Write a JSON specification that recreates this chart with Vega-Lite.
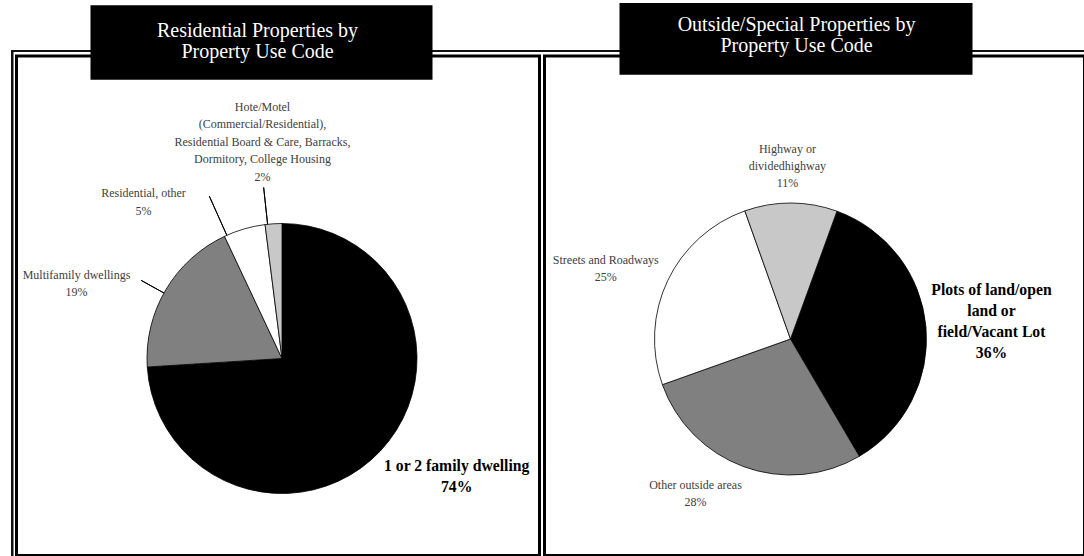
{
  "$schema": "https://vega.github.io/schema/vega-lite/v6.json",
  "background": "white",
  "padding": {"left": 8.5, "top": 1, "right": 0, "bottom": 0},
  "spacing": 5,
  "bounds": "flush",
  "config": {"font": "Liberation Serif", "view": {"stroke": "black", "strokeWidth": 3, "fill": "white"}},
  "hconcat": [
    {
      "width": 523,
      "height": 499.5,
      "data": {"values": [
        {"category": "1 or 2 family dwelling", "label": "1 or 2 family dwelling\n74%", "pct": 74, "rank": 1},
        {"category": "Multifamily dwellings", "label": "Multifamily dwellings\n19%", "pct": 19, "rank": 2},
        {"category": "Residential, other", "label": "Residential, other\n5%", "pct": 5, "rank": 3},
        {"category": "Hotel/Motel, Board & Care, Barracks, Dormitory, College Housing", "label": "Hote/Motel\n(Commercial/Residential),\nResidential Board & Care, Barracks,\nDormitory, College Housing\n2%", "pct": 2, "rank": 4}
      ]},
      "layer": [
        {"data": {"values": [{"part": "outer frame top"}]}, "mark": {"type": "rect", "color": "#111111"},
          "encoding": {"x": {"datum": -0.01052, "type": "quantitative", "scale": {"domain": [0, 1]}, "axis": null}, "x2": {"datum": 1.00956}, "y": {"datum": 1.01201, "type": "quantitative", "scale": {"domain": [0, 1]}, "axis": null}, "y2": {"datum": 1.00801}}},
        {"data": {"values": [{"part": "outer frame left"}]}, "mark": {"type": "rect", "color": "#111111"},
          "encoding": {"x": {"datum": -0.01052, "type": "quantitative", "scale": {"domain": [0, 1]}, "axis": null}, "x2": {"datum": -0.005736}, "y": {"datum": 1.01201, "type": "quantitative", "scale": {"domain": [0, 1]}, "axis": null}, "y2": {"datum": -0.005005}}},
        {
          "mark": {"type": "arc", "radius": 135, "stroke": "black", "strokeWidth": 0.8, "xOffset": 4, "yOffset": 52.75},
          "encoding": {
            "theta": {"field": "pct", "type": "quantitative", "stack": true},
            "order": {"field": "rank", "type": "quantitative"},
            "color": {"field": "category", "type": "nominal", "legend": null,
              "scale": {"domain": ["1 or 2 family dwelling", "Multifamily dwellings", "Residential, other", "Hotel/Motel, Board & Care, Barracks, Dormitory, College Housing"], "range": ["#000000", "#808080", "#ffffff", "#c8c8c8"]}}
          }
        },
        {"data": {"values": [{"leader": "Multifamily dwellings"}]}, "mark": {"type": "arc", "radius": 161, "radius2": 135, "stroke": "black", "strokeWidth": 1, "fillOpacity": 0, "xOffset": 4, "yOffset": 52.75}, "encoding": {"theta": {"datum": 83.06, "type": "quantitative"}, "theta2": {"datum": 83.06}}},
        {"data": {"values": [{"leader": "Residential, other"}]}, "mark": {"type": "arc", "radius": 178, "radius2": 135, "stroke": "black", "strokeWidth": 1, "fillOpacity": 0, "xOffset": 4, "yOffset": 52.75}, "encoding": {"theta": {"datum": 93.3, "type": "quantitative"}, "theta2": {"datum": 93.3}}},
        {"data": {"values": [{"leader": "Hotel"}]}, "mark": {"type": "arc", "radius": 172, "radius2": 135, "stroke": "black", "strokeWidth": 1, "fillOpacity": 0, "xOffset": 4, "yOffset": 52.75}, "encoding": {"theta": {"datum": 98.3, "type": "quantitative"}, "theta2": {"datum": 98.3}}},
        {
          "mark": {"type": "text", "radius": 200, "xOffset": 4, "yOffset": 52.75, "dx": 28.9, "dy": -24.1, "align": "center", "baseline": "alphabetic", "fontSize": 15.7, "fontWeight": "bold", "lineHeight": 21, "lineBreak": "\n", "color": "black"},
          "encoding": {"theta": {"field": "pct", "type": "quantitative", "stack": true}, "order": {"field": "rank", "type": "quantitative"}, "text": {"condition": {"test": "datum.rank === 1", "field": "label"}, "value": ""}}
        },
        {
          "mark": {"type": "text", "radius": 180, "xOffset": 4, "yOffset": 52.75, "dx": -50.6, "dy": 11.8, "align": "center", "baseline": "alphabetic", "fontSize": 12, "lineHeight": 17.5, "lineBreak": "\n", "color": "#404040"},
          "encoding": {"theta": {"field": "pct", "type": "quantitative", "stack": true}, "order": {"field": "rank", "type": "quantitative"}, "text": {"condition": {"test": "datum.rank === 2", "field": "label"}, "value": ""}}
        },
        {
          "mark": {"type": "text", "radius": 175, "xOffset": 4, "yOffset": 52.75, "dx": -89.7, "dy": 7, "align": "center", "baseline": "alphabetic", "fontSize": 12, "lineHeight": 17.5, "lineBreak": "\n", "color": "#404040"},
          "encoding": {"theta": {"field": "pct", "type": "quantitative", "stack": true}, "order": {"field": "rank", "type": "quantitative"}, "text": {"condition": {"test": "datum.rank === 3", "field": "label"}, "value": ""}}
        },
        {
          "mark": {"type": "text", "radius": 190, "xOffset": 4, "yOffset": 52.75, "dx": -7.6, "dy": -57.9, "align": "center", "baseline": "alphabetic", "fontSize": 12, "lineHeight": 17.5, "lineBreak": "\n", "color": "#404040"},
          "encoding": {"theta": {"field": "pct", "type": "quantitative", "stack": true}, "order": {"field": "rank", "type": "quantitative"}, "text": {"condition": {"test": "datum.rank === 4", "field": "label"}, "value": ""}}
        },
        {"data": {"values": [{"part": "title box"}]}, "mark": {"type": "rect", "color": "black"},
          "encoding": {"x": {"datum": 0.14149, "type": "quantitative", "scale": {"domain": [0, 1]}, "axis": null}, "x2": {"datum": 0.79541}, "y": {"datum": 1.1015, "type": "quantitative", "scale": {"domain": [0, 1]}, "axis": null}, "y2": {"datum": 0.95255}}},
        {"data": {"values": [{"title": "Residential Properties by\nProperty Use Code"}]}, "mark": {"type": "text", "color": "white", "fontSize": 20, "lineHeight": 20.5, "lineBreak": "\n", "align": "center", "baseline": "alphabetic", "dx": -20.5, "dy": -268.75}, "encoding": {"text": {"field": "title", "type": "nominal"}}}
      ]
    },
    {
      "width": 540,
      "height": 499.5,
      "data": {"values": [
        {"category": "Plots of land/open land or field/Vacant Lot", "label": "Plots of land/open\nland or\nfield/Vacant Lot\n36%", "pct": 36, "rank": 1},
        {"category": "Other outside areas", "label": "Other outside areas\n28%", "pct": 28, "rank": 2},
        {"category": "Streets and Roadways", "label": "Streets and Roadways\n25%", "pct": 25, "rank": 3},
        {"category": "Highway or divided highway", "label": "Highway or\ndividedhighway\n11%", "pct": 11, "rank": 4}
      ]},
      "layer": [
        {"data": {"values": [{"part": "outer frame top"}]}, "mark": {"type": "rect", "color": "#111111"},
          "encoding": {"x": {"datum": -0.0037037, "type": "quantitative", "scale": {"domain": [0, 1]}, "axis": null}, "x2": {"datum": 1.0037037}, "y": {"datum": 1.01201, "type": "quantitative", "scale": {"domain": [0, 1]}, "axis": null}, "y2": {"datum": 1.00801}}},
        {
          "mark": {"type": "arc", "radius": 136, "stroke": "black", "strokeWidth": 0.8, "xOffset": -24, "yOffset": 33.25},
          "encoding": {
            "theta": {"field": "pct", "type": "quantitative", "stack": true, "scale": {"range": [0.349, 6.632]}},
            "order": {"field": "rank", "type": "quantitative"},
            "color": {"field": "category", "type": "nominal", "legend": null,
              "scale": {"domain": ["Plots of land/open land or field/Vacant Lot", "Other outside areas", "Streets and Roadways", "Highway or divided highway"], "range": ["#000000", "#808080", "#ffffff", "#c8c8c8"]}}
          }
        },
        {
          "mark": {"type": "text", "radius": 200, "xOffset": -24, "yOffset": 33.25, "dx": 1.8, "dy": -25.9, "align": "center", "baseline": "alphabetic", "fontSize": 15.7, "fontWeight": "bold", "lineHeight": 21, "lineBreak": "\n", "color": "black"},
          "encoding": {"theta": {"field": "pct", "type": "quantitative", "stack": true}, "order": {"field": "rank", "type": "quantitative"}, "text": {"condition": {"test": "datum.rank === 1", "field": "label"}, "value": ""}}
        },
        {
          "mark": {"type": "text", "radius": 160, "xOffset": -24, "yOffset": 33.25, "dx": -40.3, "dy": 0, "align": "center", "baseline": "alphabetic", "fontSize": 12, "lineHeight": 17, "lineBreak": "\n", "color": "#404040"},
          "encoding": {"theta": {"field": "pct", "type": "quantitative", "stack": true}, "order": {"field": "rank", "type": "quantitative"}, "text": {"condition": {"test": "datum.rank === 2", "field": "label"}, "value": ""}}
        },
        {
          "mark": {"type": "text", "radius": 180, "xOffset": -24, "yOffset": 33.25, "dx": -22.1, "dy": 1.9, "align": "center", "baseline": "alphabetic", "fontSize": 12, "lineHeight": 17.5, "lineBreak": "\n", "color": "#404040"},
          "encoding": {"theta": {"field": "pct", "type": "quantitative", "stack": true}, "order": {"field": "rank", "type": "quantitative"}, "text": {"condition": {"test": "datum.rank === 3", "field": "label"}, "value": ""}}
        },
        {
          "mark": {"type": "text", "radius": 165, "xOffset": -24, "yOffset": 33.25, "dx": -3.6, "dy": -21.3, "align": "center", "baseline": "alphabetic", "fontSize": 12, "lineHeight": 17.2, "lineBreak": "\n", "color": "#404040"},
          "encoding": {"theta": {"field": "pct", "type": "quantitative", "stack": true}, "order": {"field": "rank", "type": "quantitative"}, "text": {"condition": {"test": "datum.rank === 4", "field": "label"}, "value": ""}}
        },
        {"data": {"values": [{"part": "title box"}]}, "mark": {"type": "rect", "color": "black"},
          "encoding": {"x": {"datum": 0.138889, "type": "quantitative", "scale": {"domain": [0, 1]}, "axis": null}, "x2": {"datum": 0.792593}, "y": {"datum": 1.106106, "type": "quantitative", "scale": {"domain": [0, 1]}, "axis": null}, "y2": {"datum": 0.962563}}},
        {"data": {"values": [{"title": "Outside/Special Properties by\nProperty Use Code"}]}, "mark": {"type": "text", "color": "white", "fontSize": 20, "lineHeight": 21, "lineBreak": "\n", "align": "center", "baseline": "alphabetic", "dx": -18, "dy": -275.25}, "encoding": {"text": {"field": "title", "type": "nominal"}}}
      ]
    }
  ]
}
